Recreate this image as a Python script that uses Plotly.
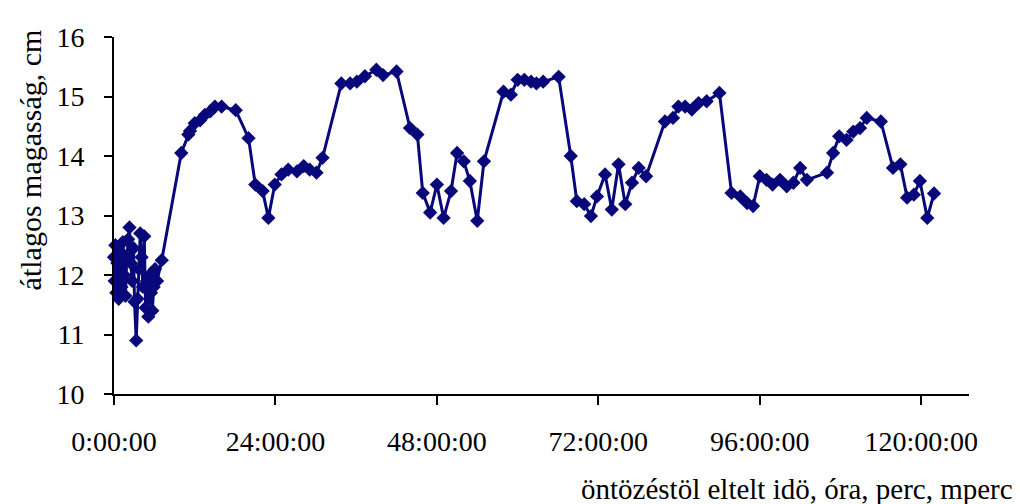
import plotly.graph_objects as go

# elapsed time since irrigation (hours) and mean height (cm)
hours = [
    0.0, 0.1, 0.2, 0.35, 0.5, 0.7, 0.9, 1.1, 1.3, 1.5, 1.7, 1.9, 2.1, 2.3, 2.5,
    2.7, 2.9, 3.05, 3.3, 3.5, 3.7, 3.9, 4.1, 4.3, 4.5, 4.7, 4.9, 5.1, 5.3, 5.5,
    5.7, 5.9, 6.1, 6.4, 7.1,
    10.0, 11.05, 11.3, 12.0, 12.8, 13.5, 14.3, 15.0, 16.0, 18.1, 20.0, 21.0,
    22.1, 22.95, 23.9, 24.9, 25.9, 27.2, 28.2, 29.1, 30.1, 31.0, 33.8, 35.1,
    36.1, 37.3, 39.0, 40.0, 42.0, 44.0, 45.1, 45.9, 47.0, 48.0, 49.0, 50.1,
    51.0, 52.0, 52.9, 54.0, 55.0, 57.9, 59.0, 60.0, 61.0, 62.0, 62.8, 63.8,
    66.1, 67.9, 68.8, 69.9, 70.9, 71.8, 73.0, 74.0, 75.0, 76.0, 77.0, 78.0,
    79.1, 81.9, 83.1, 83.9, 84.9, 85.9, 86.9, 88.1, 90.0, 91.8, 93.1, 94.1,
    95.0, 96.0, 97.0, 97.9, 99.0, 100.0, 101.0, 102.0, 103.0, 106.0, 106.9,
    107.8, 108.9, 109.9, 110.9, 111.9, 114.0, 115.8, 116.9, 117.9, 118.9,
    119.8, 120.9, 121.9,
]
height = [
    12.3, 11.9, 12.5, 11.7, 12.2, 11.6, 12.4, 11.8, 12.55, 12.0, 11.65, 12.3,
    12.6, 12.8, 12.2, 11.9, 12.45, 11.55, 10.9, 11.6, 12.1, 12.7, 12.3, 11.8,
    12.65, 11.45, 11.9, 11.3, 12.0, 11.7, 11.4, 11.8, 12.1, 11.9, 12.25,
    14.05, 14.36, 14.42, 14.55, 14.6, 14.69, 14.75, 14.83, 14.83, 14.77, 14.3,
    13.52, 13.41, 12.96, 13.52, 13.69, 13.77, 13.74, 13.83, 13.77, 13.72,
    13.97, 15.22, 15.22, 15.25, 15.34, 15.45, 15.36, 15.42, 14.47, 14.36,
    13.38, 13.05, 13.52, 12.96, 13.41, 14.05, 13.91, 13.58, 12.91, 13.91,
    15.08, 15.03, 15.28, 15.28, 15.25, 15.22, 15.25, 15.33, 14.0, 13.24,
    13.19, 12.99, 13.32, 13.69, 13.1, 13.86, 13.19, 13.55, 13.8, 13.66,
    14.58, 14.64, 14.83, 14.83, 14.78, 14.89, 14.92, 15.06, 13.38, 13.32,
    13.21, 13.16, 13.66, 13.6, 13.52, 13.6, 13.49, 13.55, 13.8, 13.6, 13.72,
    14.05, 14.33, 14.27, 14.41, 14.47, 14.64, 14.58, 13.8, 13.86, 13.3,
    13.35, 13.58, 12.96, 13.37,
]

x_tickvals = [0, 24, 48, 72, 96, 120]
x_ticktext = ["0:00:00", "24:00:00", "48:00:00", "72:00:00", "96:00:00", "120:00:00"]
y_tickvals = [10, 11, 12, 13, 14, 15, 16]

FONT = "Liberation Serif, Times New Roman, serif"
NAVY = "#08087a"

fig = go.Figure()
fig.add_trace(go.Scatter(
    x=hours, y=height, mode="lines+markers",
    line=dict(color=NAVY, width=3),
    marker=dict(symbol="diamond", size=11, color=NAVY, line=dict(width=0)),
    showlegend=False, cliponaxis=False,
))

fig.update_layout(
    width=1020, height=504,
    margin=dict(l=114, r=51, t=37, b=110),
    paper_bgcolor="white", plot_bgcolor="white",
    font=dict(family=FONT, size=28, color="black"),
    xaxis=dict(
        range=[0, 127.1], tickvals=x_tickvals, ticktext=x_ticktext,
        showgrid=False, zeroline=False, showline=True, linecolor="black",
        linewidth=2, ticks="outside", ticklen=9, tickwidth=2, tickcolor="black",
        ticklabelstandoff=12,
    ),
    yaxis=dict(
        range=[10, 16], tickvals=y_tickvals,
        showgrid=False, zeroline=False, showline=True, linecolor="black",
        linewidth=2, ticks="outside", ticklen=8, tickwidth=2, tickcolor="black",
        ticklabelstandoff=14,
    ),
    annotations=[
        dict(text="átlagos magasság, cm", xref="paper", yref="paper",
             x=-0.098, y=0.655, textangle=-90, showarrow=False,
             xanchor="center", yanchor="middle",
             font=dict(family=FONT, size=30, color="black")),
        dict(text="öntözéstöl eltelt idö, óra, perc, mperc", xref="paper", yref="paper",
             x=1.054, y=-0.265, showarrow=False, xanchor="right", yanchor="middle",
             font=dict(family=FONT, size=29, color="black")),
    ],
)

fig.write_html("out.html")
